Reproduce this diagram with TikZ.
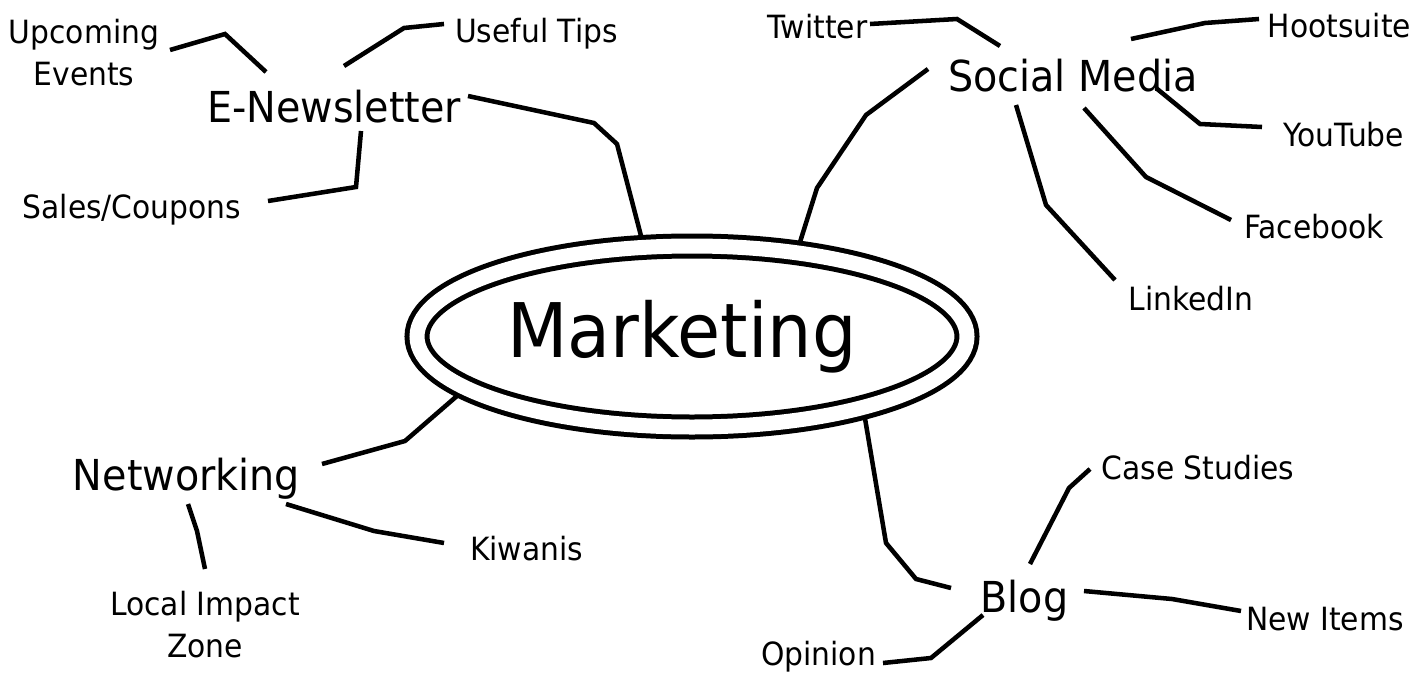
\documentclass[tikz,border=0pt]{standalone}
\usepackage{fontspec}
\setmainfont{DejaVu Sans}[FakeStretch=0.93]
\usetikzlibrary{shapes.geometric}
\begin{document}
\begin{tikzpicture}[x=0.75pt,y=-0.75pt,
  conn/.style={line width=3.4pt},
  small/.style={font=\fontsize{24}{31.5}\selectfont, inner sep=0, anchor=base},
  medium/.style={font=\fontsize{32}{38}\selectfont, inner sep=0, anchor=base},
  central/.style={ellipse, draw, double, double distance=11.25pt, line width=3.75pt,
    minimum width=412.5pt, minimum height=135.75pt, inner sep=0, outer sep=8pt,
    font=\fontsize{56.5}{60}\selectfont}
]
\fill[white] (0,0) rectangle (1419,674);
\useasboundingbox (0,0) rectangle (1419,674);

% central node
\node[central] (mk) at (692,336.5) {Marketing\hspace*{15pt}};

% main topics
\node[medium] (enews) at (334,122) {E-Newsletter};
\node[medium] (social) at (1073,91) {Social Media};
\node[medium] (net) at (186.5,490) {Networking};
\node[medium] (blog) at (1024.5,612) {Blog};

% sub topics
\node[small, anchor=north, align=center] (upc) at (84,18.7) {Upcoming\\Events};
\node[small] (tips) at (536.5,43) {Useful Tips};
\node[small] (sales) at (132,218) {Sales/Coupons};
\node[small] (tw) at (817.5,39) {Twitter};
\node[small] (hoot) at (1339.5,38) {Hootsuite};
\node[small] (yt) at (1343.5,146) {YouTube};
\node[small] (fb) at (1314,238) {Facebook};
\node[small] (li) at (1191,310) {LinkedIn};
\node[small] (kiw) at (526.5,560) {Kiwanis};
\node[small, anchor=north, align=center] (liz) at (205,590.7) {Local Impact\\Zone};
\node[small] (case) at (1198,479) {Case Studies};
\node[small] (ni) at (1325,630) {New Items};
\node[small] (op) at (818.5,665.5) {Opinion};

% connectors to the centre
\draw[conn] ([shift={(134,-26)}]enews.base) -- (594,123) -- (617,144) -- (mk.117);
\draw[conn] ([shift={(-145,-22)}]social.base) -- (866,115) -- (817,188) -- (mk.41.6);
\draw[conn] ([shift={(135.5,-26)}]net.base) -- (405,441) -- (mk.194.7);
\draw[conn] ([shift={(-73.5,-24)}]blog.base) -- (916,579) -- (886,543) -- (mk.335);

% E-Newsletter branches
\draw[conn] ([shift={(-68,-50)}]enews.base) -- (225,34) -- ([shift={(86,31.3)}]upc.north);
\draw[conn] ([shift={(10,-56)}]enews.base) -- (404,28) -- ([shift={(-92.5,-19)}]tips.base);
\draw[conn] ([shift={(27,9)}]enews.base) -- (356,187) -- ([shift={(136,-17)}]sales.base);

% Social Media branches
\draw[conn] ([shift={(-73,-45)}]social.base) -- (957,19) -- ([shift={(52.5,-15)}]tw.base);
\draw[conn] ([shift={(58,-52)}]social.base) -- (1205,23) -- ([shift={(-80.5,-19)}]hoot.base);
\draw[conn] ([shift={(83,-3)}]social.base) -- (1200,124) -- ([shift={(-81.5,-19)}]yt.base);
\draw[conn] ([shift={(11,17)}]social.base) -- (1146,177) -- ([shift={(-83,-18)}]fb.base);
\draw[conn] ([shift={(-57,14)}]social.base) -- (1046,205) -- ([shift={(-76,-30)}]li.base);

% Networking branches
\draw[conn] ([shift={(99.5,14)}]net.base) -- (374,531) -- ([shift={(-82.5,-17)}]kiw.base);
\draw[conn] ([shift={(1.5,14)}]net.base) -- (197,531) -- ([shift={(0,-21.7)}]liz.north);

% Blog branches
\draw[conn] ([shift={(5.5,-48)}]blog.base) -- (1069,488) -- ([shift={(-108,-10)}]case.base);
\draw[conn] ([shift={(59.5,-21)}]blog.base) -- (1172,599) -- ([shift={(-84,-19)}]ni.base);
\draw[conn] ([shift={(-41.5,3)}]blog.base) -- (931,658) -- ([shift={(64.5,-2.5)}]op.base);
\end{tikzpicture}
\end{document}
